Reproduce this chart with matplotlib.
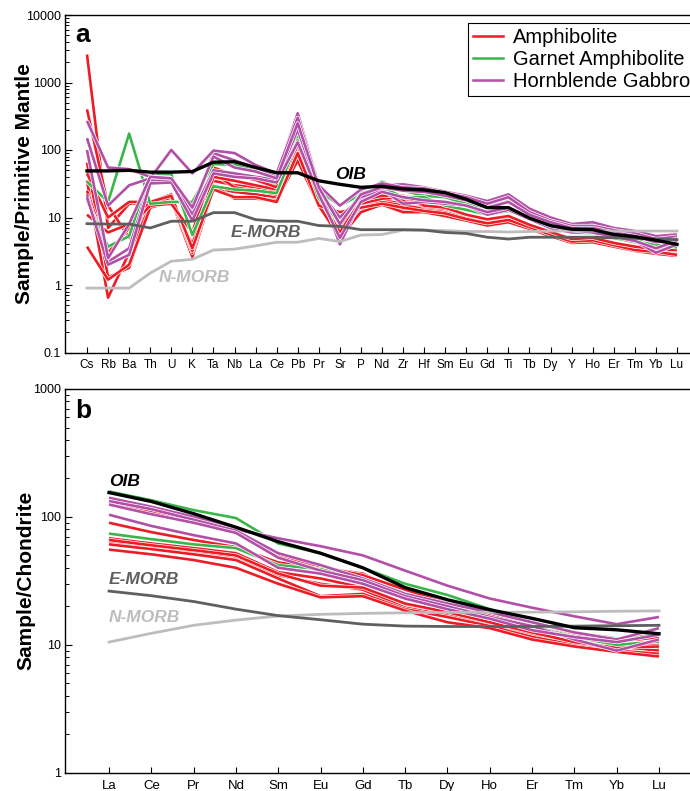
import matplotlib
matplotlib.use("Agg")
import matplotlib.pyplot as plt
import matplotlib.patheffects as pe
from matplotlib.ticker import FixedLocator, FuncFormatter, LogLocator, NullFormatter
from matplotlib.lines import Line2D

plt.rcParams['font.family'] = ['Liberation Sans', 'DejaVu Sans']

# ---------------- Panel a: primitive-mantle normalised ----------------
pm_elements = ['Cs','Rb','Ba','Th','U','K','Ta','Nb','La','Ce','Pb','Pr','Sr','P','Nd',
               'Zr','Hf','Sm','Eu','Gd','Ti','Tb','Dy','Y','Ho','Er','Tm','Yb','Lu']

oib_pm   = [49, 49, 50, 47, 47, 48, 66, 67, 55, 46, 46, 35, 31, 28, 29, 26.5, 25.6, 23.3, 18.6, 14, 14, 9.8, 7.6, 6.7, 6.6, 5.6, 5.2, 4.6, 4.0]
emorb_pm = [8.1, 8.0, 8.0, 7.0, 8.8, 8.8, 11.8, 11.8, 9.3, 8.8, 8.8, 7.6, 7.4, 6.6, 6.6, 6.6, 6.5, 6.0, 5.8, 5.1, 4.8, 5.1, 5.1, 5.1, 5.1, 5.0, 4.9, 4.8, 4.7]
nmorb_pm = [0.9, 0.9, 0.9, 1.5, 2.25, 2.4, 3.3, 3.4, 3.8, 4.3, 4.3, 4.9, 4.4, 5.5, 5.6, 6.5, 6.5, 6.4, 6.2, 6.2, 6.1, 6.2, 6.3, 6.3, 6.3, 6.3, 6.3, 6.3, 6.3]

amph_pm = [
    [2600, 7, 16, 17, 20, 2.7, 50, 45, 40, 30, 100, 22, 6, 17, 20, 18, 14, 13, 11, 9.3, 10.5, 7.5, 5.9, 4.6, 4.7, 4.0, 3.5, 3.3, 3.0],
    [400, 15, 5, 16, 19, 2.8, 35, 30, 28, 24, 270, 20, 5, 15, 18, 16, 13, 12, 10, 8.5, 9.5, 7.2, 5.7, 4.5, 4.6, 3.9, 3.4, 3.1, 2.8],
    [65, 1.3, 1.8, 16, 18, 2.6, 27, 24, 22, 20, 75, 16, 7, 13, 16, 13, 12.5, 11, 9.5, 8, 9, 7, 5.5, 4.4, 4.5, 3.8, 3.3, 3.0, 2.7],
    [35, 0.65, 3, 15, 20, 3.0, 30, 19, 19, 18, 70, 15, 5, 12, 15.5, 12, 12, 10.5, 9, 7.6, 8.5, 6.8, 5.3, 4.2, 4.3, 3.7, 3.2, 2.9, 2.7],
    [11, 6, 8, 17, 22, 3.2, 45, 28, 25, 22, 120, 18, 8, 14, 17, 15, 13.5, 12, 10, 8.8, 10, 7.4, 5.8, 4.5, 4.8, 4.0, 3.4, 3.2, 3.0],
    [3.7, 1.2, 2, 14, 17, 4, 40, 35, 30, 26, 150, 19, 10, 16, 19, 20, 14.5, 13.5, 11, 9.2, 10.2, 7.6, 6.0, 4.7, 4.9, 4.1, 3.6, 3.3, 3.2],
    [45, 10, 17, 17, 21, 3.5, 26, 20, 20, 17, 90, 15, 12, 14, 16, 14, 12.5, 11.5, 9.5, 8.2, 9.2, 7.2, 5.6, 4.4, 4.6, 3.9, 3.3, 3.1, 2.8],
    [25, 3, 7, 15, 16, 6, 55, 42, 36, 28, 180, 21, 6, 18, 21, 21, 15, 14, 11, 9.4, 10.5, 7.8, 6.1, 4.8, 5.0, 4.2, 3.7, 3.4, 3.3],
]
garnet_pm = [
    [34, 17, 175, 16, 17, 17, 62, 60, 50, 45, 160, 25, 15, 22, 34, 25, 21, 20, 16, 14, 17.5, 11, 8, 6.3, 6, 5.3, 4.8, 4.2, 4.2],
    [18, 3.7, 5.3, 44, 44, 5.5, 29, 26, 25, 23, 140, 19, 8.4, 23, 28, 20, 20, 15, 13, 11, 12.5, 10, 7.5, 6, 5.8, 5, 4.3, 4.0, 3.6],
]
gabbro_pm = [
    [270, 55, 52, 40, 38, 12, 90, 70, 55, 42, 350, 30, 4, 18, 30, 31, 28, 24, 21, 17.5, 22, 13.5, 10, 8, 8.5, 7, 6.3, 5.3, 5.6],
    [150, 15, 30, 38, 100, 45, 98, 90, 60, 45, 300, 30, 15, 26, 32, 28, 27, 23, 20, 16, 20, 12, 9, 7.5, 7.5, 6.5, 5.8, 4.8, 5.2],
    [22, 2.2, 3.5, 35, 35, 11, 50, 45, 40, 36, 200, 25, 10, 20, 26, 16, 17, 16, 15, 11, 13, 9.5, 7, 6, 6, 5.5, 4.5, 3.0, 4.0],
    [20, 2.0, 2.8, 32, 33, 9, 45, 40, 38, 33, 130, 22, 5, 17, 24, 20, 18, 17, 15, 12, 14, 10, 7.5, 6.5, 6, 5.2, 4.5, 3.5, 4.5],
    [100, 2.5, 8, 40, 38, 14, 80, 55, 48, 38, 250, 28, 8, 22, 28, 25, 24, 21, 18, 14, 17, 11, 8.5, 7, 7, 6, 5.3, 4.3, 4.8],
]

# ---------------- Panel b: chondrite normalised ----------------
ree = ['La','Ce','Pr','Nd','Sm','Eu','Gd','Tb','Dy','Ho','Er','Tm','Yb','Lu']

oib_ch   = [155, 132, 106, 83, 64, 52, 40, 28, 22.5, 18.8, 16.1, 13.6, 13.1, 12.2]
emorb_ch = [26.3, 24.2, 21.8, 19, 16.9, 15.7, 14.5, 14.0, 13.9, 13.9, 13.9, 14.0, 14.1, 14.2]
nmorb_ch = [10.5, 12.3, 14.2, 15.6, 16.8, 17.3, 17.6, 17.8, 17.9, 18.0, 18.0, 18.1, 18.3, 18.4]

amph_ch = [
    [90, 76, 66, 58, 44, 40, 36, 25, 20, 16.5, 13.5, 11.5, 10.5, 11.5],
    [68, 62, 57, 52, 37, 33, 28, 20, 17.5, 15, 12.5, 10.5, 9.5, 9.5],
    [64, 59, 54, 49, 35, 30, 27, 19.5, 17, 14.5, 12, 10.2, 9.7, 9.0],
    [61, 56, 51, 46, 33, 24, 25, 19, 16.5, 14, 11.5, 10, 9.0, 8.5],
    [55.5, 51, 46, 40, 30, 23.5, 24, 18.5, 15, 13.5, 11, 9.7, 8.8, 8.1],
    [130, 110, 92, 76, 50, 41, 35, 27, 21, 17, 14, 12, 10.5, 10],
    [66, 60, 55, 50, 36, 29, 28, 21, 18, 15, 12.5, 10.5, 9.5, 9.7],
]
garnet_ch = [
    [158, 135, 113, 98, 62, 52, 40, 30, 24.5, 19, 15, 12.5, 11.2, 12],
    [74, 67, 61, 57, 42, 39, 33, 24, 20, 16, 14, 11.5, 10, 10.6],
]
gabbro_ch = [
    [141, 120, 100, 80, 68, 59, 50, 38, 29, 23, 19.5, 16.7, 14.5, 16.5],
    [133, 115, 95, 78, 52, 42, 33, 25, 21, 18, 15, 12.5, 11, 13.5],
    [125, 105, 90, 75, 48, 38, 32, 24, 20, 16.5, 14, 11, 9, 11],
    [104, 85, 72, 62, 40, 36, 30, 23, 19, 16, 13, 11.5, 10.5, 12],
]

RED = '#ED1C24'
GREEN = '#3AB54A'
PURPLE = '#B24FA6'
DGRAY = '#5F5F5F'
LGRAY = '#BDBDBD'

fig = plt.figure(figsize=(6.9, 7.91), dpi=100)
W, H = 690.0, 791.0

def axes_px(left, top, right, bottom):
    return fig.add_axes([left / W, 1 - bottom / H, (right - left) / W, (bottom - top) / H])

ax_a = axes_px(65, 15, 692, 352.5)
ax_b = axes_px(65, 389, 692, 772.7)

def sample_line(ax, x, y, color, lw=1.9):
    ax.plot(x, y, color=color, lw=lw, solid_joinstyle='round', solid_capstyle='butt',
            path_effects=[pe.Stroke(linewidth=lw + 1.0, foreground='white', joinstyle='round'),
                          pe.Normal()])

def ref_line(ax, x, y, color, lw=2.0):
    ax.plot(x, y, color=color, lw=lw, solid_joinstyle='round', zorder=5)

def style_axis(ax, labels, ylim, ylabel, xlim, letter, decades, xfs):
    ax.set_yscale('log')
    ax.set_ylim(*ylim)
    ax.set_xlim(*xlim)
    ax.set_xticks(range(len(labels)))
    ax.set_xticklabels(labels, fontsize=xfs)
    ax.yaxis.set_major_locator(FixedLocator(decades))
    ax.yaxis.set_major_formatter(FuncFormatter(lambda v, p: ('%g' % v)))
    ax.yaxis.set_minor_locator(LogLocator(base=10, subs=range(2, 10), numticks=20))
    ax.yaxis.set_minor_formatter(NullFormatter())
    ax.tick_params(axis='x', direction='in', length=4, width=0.8, pad=5)
    ax.tick_params(axis='y', which='major', direction='in', length=5, width=0.8, labelsize=9, pad=3)
    ax.tick_params(axis='y', which='minor', direction='in', length=3, width=0.7)
    for s in ax.spines.values():
        s.set_linewidth(1.0)
    ax.set_ylabel(ylabel, fontsize=15, fontweight='bold')
    ax.text(0.016, 0.975, letter, transform=ax.transAxes, fontsize=19, fontweight='bold',
            va='top', ha='left')

# Panel a
xa = list(range(len(pm_elements)))
for s in amph_pm:
    sample_line(ax_a, xa, s, RED)
for s in garnet_pm:
    sample_line(ax_a, xa, s, GREEN)
for s in gabbro_pm:
    sample_line(ax_a, xa, s, PURPLE)
ref_line(ax_a, xa, nmorb_pm, LGRAY)
ref_line(ax_a, xa, emorb_pm, DGRAY)
ref_line(ax_a, xa, oib_pm, 'black', lw=2.4)
ax_a.text(11.8, 43.6, 'OIB', fontsize=12.5, fontweight='bold', style='italic', color='black', va='center', ha='left', zorder=6)
ax_a.text(6.8, 6.0, 'E-MORB', fontsize=12.5, fontweight='bold', style='italic', color=DGRAY, va='center', ha='left', zorder=6)
ax_a.text(3.4, 1.29, 'N-MORB', fontsize=12.5, fontweight='bold', style='italic', color=LGRAY, va='center', ha='left', zorder=6)
style_axis(ax_a, pm_elements, (0.1, 10000), 'Sample/Primitive Mantle',
           (-22 / 21.07, 28 + 15 / 21.07), 'a', [0.1, 1, 10, 100, 1000, 10000], 8.5)
ax_a.yaxis.set_label_coords(-0.05, 0.5)

handles = [Line2D([], [], color=RED, lw=1.8),
           Line2D([], [], color=GREEN, lw=1.8),
           Line2D([], [], color=PURPLE, lw=1.8)]
leg = fig.legend(handles, ['Amphibolite', 'Garnet Amphibolite', 'Hornblende Gabbro'],
                 loc='upper left', bbox_to_anchor=(468 / W, 1 - 23 / H), bbox_transform=fig.transFigure,
                 fontsize=14.5, frameon=True, fancybox=False, framealpha=1, edgecolor='black',
                 handlelength=1.5, handletextpad=0.5, labelspacing=0.15, borderpad=0.25,
                 borderaxespad=0)
leg.get_frame().set_linewidth(0.8)

# Panel b
xb = list(range(len(ree)))
for s in amph_ch:
    sample_line(ax_b, xb, s, RED)
for s in garnet_ch:
    sample_line(ax_b, xb, s, GREEN)
for s in gabbro_ch:
    sample_line(ax_b, xb, s, PURPLE)
ref_line(ax_b, xb, nmorb_ch, LGRAY)
ref_line(ax_b, xb, emorb_ch, DGRAY)
ref_line(ax_b, xb, oib_ch, 'black', lw=2.4)
ax_b.text(0.0, 189, 'OIB', fontsize=12.5, fontweight='bold', style='italic', color='black', va='center', ha='left', zorder=6)
ax_b.text(0.0, 32.3, 'E-MORB', fontsize=12.5, fontweight='bold', style='italic', color=DGRAY, va='center', ha='left', zorder=6)
ax_b.text(0.0, 16.3, 'N-MORB', fontsize=12.5, fontweight='bold', style='italic', color=LGRAY, va='center', ha='left', zorder=6)
style_axis(ax_b, ree, (1, 1000), 'Sample/Chondrite',
           (-44 / 42.3, 13 + 33 / 42.3), 'b', [1, 10, 100, 1000], 9.5)
ax_b.yaxis.set_label_coords(-0.047, 0.5)

fig.savefig('out.png', dpi=100)
